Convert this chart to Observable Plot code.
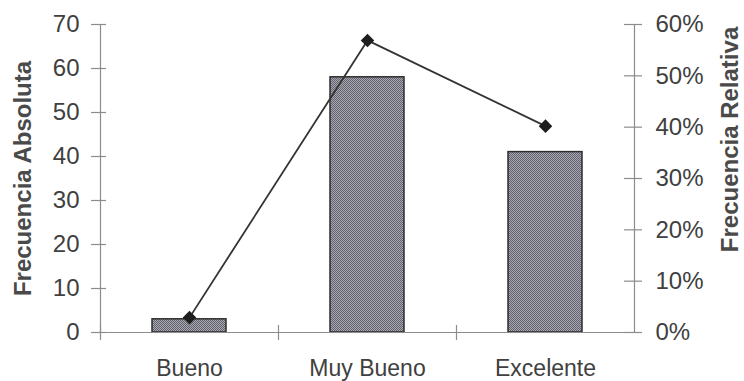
<!DOCTYPE html>
<html>
<head>
<meta charset="utf-8">
<script src="https://cdn.jsdelivr.net/npm/d3@7"></script>
<script src="https://cdn.jsdelivr.net/npm/@observablehq/plot@0.6"></script>
<style>
  html, body { margin: 0; padding: 0; background: #fff; }
  svg { display: block; }
</style>
</head>
<body>
<div id="chart"></div>
<script>
// Frequency table: absolute counts (bars, left axis) and relative share (line, right axis)
const categories = ["Bueno", "Muy Bueno", "Excelente"];
const absoluteFreq = [3, 58, 41];
const relativeFreq = [0.029, 0.569, 0.402];
const absTicks = [0, 10, 20, 30, 40, 50, 60, 70];
const relTicks = [0, 0.1, 0.2, 0.3, 0.4, 0.5, 0.6];

const absMax = 70;
const relMax = 0.6;
// the right axis shares the plot height: 0–60 % spans the same range as 0–70
const toAbs = p => p * absMax / relMax;

const rows = categories.map((c, i) => ({
  categoria: c,
  absoluta: absoluteFreq[i],
  relativa: relativeFreq[i]
}));

const W = 744, H = 381;
const mL = 100, mR = 110, mT = 24, mB = 49;
const innerW = W - mL - mR;
const step = innerW / categories.length;

const font = "'Liberation Sans', Arial, sans-serif";
const axisColor = "#8c8c8c";
const textColor = "#404040";

const chart = Plot.plot({
  width: W,
  height: H,
  marginLeft: mL,
  marginRight: mR,
  marginTop: mT,
  marginBottom: mB,
  style: { fontFamily: font, color: textColor, background: "#fff", overflow: "visible" },
  x: { domain: categories, paddingInner: 0.584, paddingOuter: 0.292 },
  y: { domain: [0, absMax] },
  marks: [
    Plot.barY(rows, {
      x: "categoria", y: "absoluta",
      fill: "url(#trama)", stroke: "#2e2e2e", strokeWidth: 1.5
    }),
    // axis lines
    Plot.ruleY([0], { stroke: axisColor, strokeWidth: 1.2 }),
    Plot.frame({ anchor: "left", stroke: axisColor, strokeWidth: 1.2 }),
    Plot.frame({ anchor: "right", stroke: axisColor, strokeWidth: 1.2 }),
    // cross tick marks on both value axes
    Plot.ruleY(absTicks, { y: d => d, insetLeft: -9, insetRight: innerW - 6, stroke: axisColor, strokeWidth: 1.2 }),
    Plot.ruleY(relTicks, { y: d => toAbs(d), insetLeft: innerW - 10, insetRight: -8, stroke: axisColor, strokeWidth: 1.2 }),
    // category separators on the baseline
    Plot.ruleX(categories, { x: d => d, dx: -step / 2, y1: 0, y2: 0, insetTop: -7, insetBottom: -8, stroke: axisColor, strokeWidth: 1.2 }),
    // tick labels
    Plot.axisY({ anchor: "left", ticks: absTicks, tickSize: 0, tickPadding: 21, fontSize: 24, label: null, tickFormat: d => String(d) }),
    Plot.axisY({
      anchor: "right", ticks: relTicks.map(toAbs), tickSize: 0, tickPadding: 21, fontSize: 24, label: null,
      tickFormat: v => Math.round(v / absMax * relMax * 100) + "%"
    }),
    Plot.axisX({ tickSize: 0, tickPadding: 27, fontSize: 23, label: null }),
    // relative frequency line
    Plot.line(rows, { x: "categoria", y: d => toAbs(d.relativa), stroke: "#333", strokeWidth: 1.8 }),
    Plot.dot(rows, { x: "categoria", y: d => toAbs(d.relativa), symbol: "square", rotate: 45, r: 5.4, fill: "#1e1e1e", stroke: "none" }),
    // axis titles
    Plot.text(["Frecuencia Absoluta"], {
      text: d => d, frameAnchor: "left", textAnchor: "middle", dx: -77, rotate: -90,
      fontSize: 24, fontWeight: "bold", fill: "#4a4a4a"
    }),
    Plot.text(["Frecuencia Relativa"], {
      text: d => d, frameAnchor: "right", textAnchor: "middle", dx: 96, dy: -39, rotate: -90,
      fontSize: 24, fontWeight: "bold", fill: "#4a4a4a"
    })
  ]
});

// fine checkered fill used by the bars
const ns = "http://www.w3.org/2000/svg";
const defs = document.createElementNS(ns, "defs");
defs.innerHTML =
  '<pattern id="trama" width="2" height="2" patternUnits="userSpaceOnUse">' +
  '<rect width="2" height="2" fill="#a8a8b2" shape-rendering="crispEdges"/>' +
  '<rect width="1" height="1" fill="#62626c" shape-rendering="crispEdges"/>' +
  '<rect x="1" y="1" width="1" height="1" fill="#62626c" shape-rendering="crispEdges"/>' +
  '</pattern>';
chart.insertBefore(defs, chart.firstChild);

document.getElementById("chart").appendChild(chart);
</script>
</body>
</html>
